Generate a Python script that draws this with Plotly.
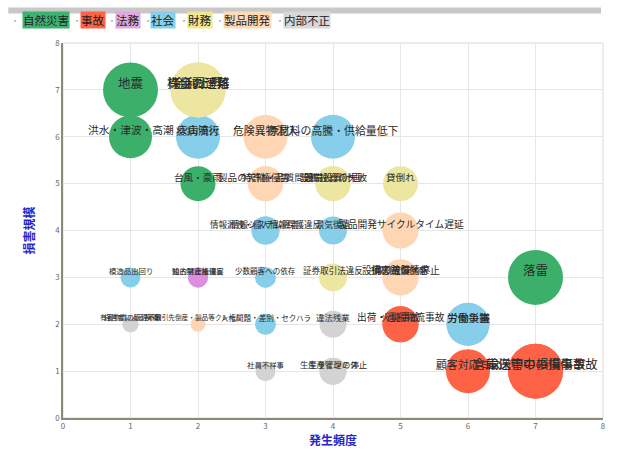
import plotly.graph_objects as go

# ---------------- data ----------------
categories = ["自然災害", "事故", "法務", "社会", "財務", "製品開発", "内部不正"]
category_colors = ["#3cb06a", "#ff6347", "#dc8fdc", "#87ceeb", "#ece6a0", "#ffd6b4", "#d3d3d3"]
legend_bg = ["#3cb371", "#ff6347", "#e0a8e0", "#87ceeb", "#f0e68c", "#ffdab9", "#d8d8d8"]

risk_names = [
    "地震", "洪水・津波・高潮", "火山噴火", "台風・豪雨", "落雷",
    "出荷・運搬物流事故", "火災事故", "顧客対応ミス", "倉庫保管中の損傷事故", "輸送中の損傷事故",
    "知的財産権侵害", "独占禁止法違反",
    "疫病流行", "原材料の高騰・供給量低下", "情報漏洩・個人情報保護違反", "情報システム障害",
    "景気後退", "模造品出回り", "少数顧客への依存", "人権問題・差別・セクハラ", "労働災害", "労働争議",
    "株価の下落", "金利上昇", "資金調達難", "設備投資の失敗", "設備投資計画", "貸倒れ", "証券取引法違反", "取引先の倒産",
    "危険異物混入", "特許権侵害", "製品の欠陥・品質問題", "製品開発サイクルタイム遅延", "損害賠償請求", "設備の故障・停止",
    "取引先倒産・製品等クレーム",
    "有害物質の管理不備", "経営者による横領", "違法残業", "社員不祥事", "生産管理ミス", "生産ラインの停止",
]
risk_categories = [
    "自然災害", "自然災害", "自然災害", "自然災害", "自然災害",
    "事故", "事故", "事故", "事故", "事故",
    "法務", "法務",
    "社会", "社会", "社会", "社会",
    "社会", "社会", "社会", "社会", "社会", "社会",
    "財務", "財務", "財務", "財務", "財務", "財務", "財務", "財務",
    "製品開発", "製品開発", "製品開発", "製品開発", "製品開発", "製品開発",
    "製品開発",
    "内部不正", "内部不正", "内部不正", "内部不正", "内部不正", "内部不正",
]
frequency = [
    1, 1, 2, 2, 7,
    5, 5, 6, 7, 7,
    2, 2,
    2, 4, 3, 3,
    4, 1, 3, 3, 6, 6,
    2, 2, 2, 4, 4, 5, 4, 5,
    3, 3, 3, 5, 5, 5,
    2,
    1, 1, 4, 3, 4, 4,
]
damage = [
    7, 6, 6, 5, 3,
    2, 2, 1, 1, 1,
    3, 3,
    6, 6, 4, 4,
    4, 3, 3, 2, 2, 2,
    7, 7, 7, 5, 5, 5, 3, 3,
    6, 5, 5, 4, 3, 3,
    2,
    2, 2, 2, 1, 1, 1,
]
impact = [
    55, 43, 40, 35, 55,
    36, 36, 44, 55, 55,
    20, 20,
    44, 44, 28, 28,
    28, 20, 21, 21, 43, 43,
    55, 55, 55, 35, 35, 35, 28, 28,
    44, 35, 35, 36, 36, 36,
    15,
    16, 16, 27, 20, 27, 27,
]

x_title = "発生頻度"
y_title = "損害規模"
axis_ticks = [0, 1, 2, 3, 4, 5, 6, 7, 8]

# ---------------- figure ----------------
FONT = "Noto Sans CJK JP"
fig = go.Figure()

for cat, col in zip(categories, category_colors):
    idx = [i for i, c in enumerate(risk_categories) if c == cat]
    fig.add_trace(go.Scatter(
        x=[frequency[i] for i in idx],
        y=[damage[i] for i in idx],
        mode="markers",
        name=cat,
        marker=dict(size=[impact[i] for i in idx], sizemode="diameter",
                    color=col, opacity=1, line=dict(width=0)),
        hoverinfo="text",
        text=[risk_names[i] for i in idx],
        showlegend=False,
    ))

annotations = []
for name, fx, dy, s in zip(risk_names, frequency, damage, impact):
    annotations.append(dict(
        x=fx, y=dy, xref="x", yref="y", text=name, showarrow=False,
        xanchor="center", yanchor="middle",
        yshift=7, font=dict(family=FONT, size=4.5 + 0.145 * s, color="#2a2a2a"),
    ))

# custom legend row (highlighted labels) at top
legend_px = [46, 93, 128, 164, 201, 249, 308]
dot_px = [15, 77, 112, 148, 185, 221, 281]
L, R, T, B = 63, 606, 43, 423
W, H = R - L, B - T
for cat, bg, px, dx in zip(categories, legend_bg, legend_px, dot_px):
    annotations.append(dict(
        x=(px - L) / W, y=(B - 20) / H, xref="paper", yref="paper",
        xanchor="center", yanchor="middle",
        text=cat, showarrow=False, bgcolor=bg, borderpad=0,
        font=dict(family=FONT, size=11.5, color="#222"),
    ))
    annotations.append(dict(
        x=(dx - L) / W, y=(B - 20) / H, xref="paper", yref="paper",
        xanchor="center", yanchor="middle",
        text="▪", showarrow=False,
        font=dict(family=FONT, size=6, color="#aaa"),
    ))

shapes = [
    dict(type="rect", xref="paper", yref="paper",
         x0=(8 - L) / W, x1=(604 - L) / W, y0=(B - 7) / H, y1=(B - 13) / H,
         fillcolor="#c8c8c8", line=dict(width=0), layer="above"),
    dict(type="rect", xref="paper", yref="paper", x0=0, x1=1, y0=0, y1=1,
         line=dict(color="#d9d9d9", width=1), layer="below"),
]

axis_common = dict(
    range=[0, 8], tickvals=axis_ticks, ticktext=[str(t) for t in axis_ticks],
    showgrid=True, gridcolor="#e6e6e6", gridwidth=1, zeroline=False,
    showline=True, linecolor="#8a8a78", linewidth=1.5,
    tickfont=dict(family=FONT, size=8, color="#666"), ticks="",
)

fig.update_layout(
    width=618, height=454,
    margin=dict(l=L, r=618 - R, t=T, b=454 - B),
    paper_bgcolor="white", plot_bgcolor="white",
    font=dict(family=FONT),
    xaxis=dict(**axis_common,
               title=dict(text="<b>" + x_title + "</b>", standoff=2,
                          font=dict(family=FONT, size=12, color="#2626c8"))),
    yaxis=dict(**axis_common,
               title=dict(text="<b>" + y_title + "</b>", standoff=18,
                          font=dict(family=FONT, size=12, color="#2626c8"))),
    annotations=annotations,
    shapes=shapes,
    showlegend=False,
)

fig.write_html("out.html")
